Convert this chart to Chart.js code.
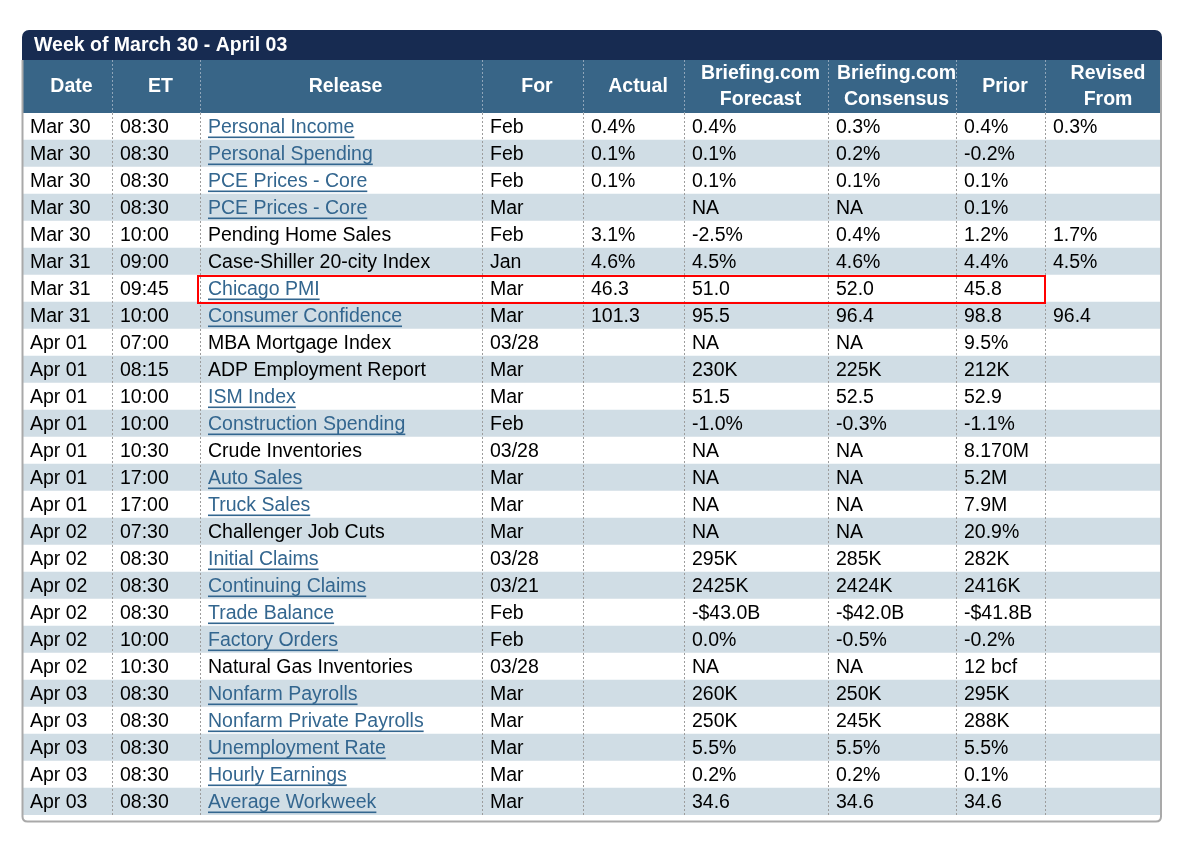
<!DOCTYPE html>
<html>
<head>
<meta charset="utf-8">
<title>Week of March 30 - April 03</title>
<script src="https://cdn.jsdelivr.net/npm/chart.js@4"></script>
<style>
  html, body { margin: 0; padding: 0; background: #ffffff; }
  #wrap { width: 1183px; height: 843px; position: relative; }
</style>
</head>
<body>
<div id="wrap"><canvas id="calendar"></canvas></div>
<script>
// Table data
const title = "Week of March 30 - April 03";
const headerLabels = ["Date", "ET", "Release", "For", "Actual", "Briefing.com\nForecast", "Briefing.com\nConsensus", "Prior", "Revised\nFrom"];

const dates = ["Mar 30", "Mar 30", "Mar 30", "Mar 30", "Mar 30", "Mar 31", "Mar 31", "Mar 31", "Apr 01", "Apr 01", "Apr 01", "Apr 01", "Apr 01",
  "Apr 01", "Apr 01", "Apr 02", "Apr 02", "Apr 02", "Apr 02", "Apr 02", "Apr 02", "Apr 03", "Apr 03", "Apr 03", "Apr 03", "Apr 03"];
const times = ["08:30", "08:30", "08:30", "08:30", "10:00", "09:00", "09:45", "10:00", "07:00", "08:15", "10:00", "10:00", "10:30",
  "17:00", "17:00", "07:30", "08:30", "08:30", "08:30", "10:00", "10:30", "08:30", "08:30", "08:30", "08:30", "08:30"];
const releases = ["Personal Income", "Personal Spending", "PCE Prices - Core", "PCE Prices - Core", "Pending Home Sales",
  "Case-Shiller 20-city Index", "Chicago PMI", "Consumer Confidence", "MBA Mortgage Index", "ADP Employment Report",
  "ISM Index", "Construction Spending", "Crude Inventories", "Auto Sales", "Truck Sales", "Challenger Job Cuts",
  "Initial Claims", "Continuing Claims", "Trade Balance", "Factory Orders", "Natural Gas Inventories",
  "Nonfarm Payrolls", "Nonfarm Private Payrolls", "Unemployment Rate", "Hourly Earnings", "Average Workweek"];
const isLink = [true, true, true, true, false, false, true, true, false, false, true, true, false,
  true, true, false, true, true, true, true, false, true, true, true, true, true];
const periods = ["Feb", "Feb", "Feb", "Mar", "Feb", "Jan", "Mar", "Mar", "03/28", "Mar", "Mar", "Feb", "03/28",
  "Mar", "Mar", "Mar", "03/28", "03/21", "Feb", "Feb", "03/28", "Mar", "Mar", "Mar", "Mar", "Mar"];
const actual = ["0.4%", "0.1%", "0.1%", "", "3.1%", "4.6%", "46.3", "101.3", "", "", "", "", "",
  "", "", "", "", "", "", "", "", "", "", "", "", ""];
const forecast = ["0.4%", "0.1%", "0.1%", "NA", "-2.5%", "4.5%", "51.0", "95.5", "NA", "230K", "51.5", "-1.0%", "NA",
  "NA", "NA", "NA", "295K", "2425K", "-$43.0B", "0.0%", "NA", "260K", "250K", "5.5%", "0.2%", "34.6"];
const consensus = ["0.3%", "0.2%", "0.1%", "NA", "0.4%", "4.6%", "52.0", "96.4", "NA", "225K", "52.5", "-0.3%", "NA",
  "NA", "NA", "NA", "285K", "2424K", "-$42.0B", "-0.5%", "NA", "250K", "245K", "5.5%", "0.2%", "34.6"];
const prior = ["0.4%", "-0.2%", "0.1%", "0.1%", "1.2%", "4.4%", "45.8", "98.8", "9.5%", "212K", "52.9", "-1.1%", "8.170M",
  "5.2M", "7.9M", "20.9%", "282K", "2416K", "-$41.8B", "-0.2%", "12 bcf", "295K", "288K", "5.5%", "0.1%", "34.6"];
const revised = ["0.3%", "", "", "", "1.7%", "4.5%", "", "96.4", "", "", "", "", "",
  "", "", "", "", "", "", "", "", "", "", "", "", ""];
const highlightRow = 6;

const columns = [dates, times, releases, periods, actual, forecast, consensus, prior, revised];
const rowIndex = dates.map((d, i) => i);

// Layout (x scale units = table pixels from left edge)
const tableWidth = 1140;
const colEdges = [0, 90, 178, 460, 561, 662, 806, 934, 1023, 1140];

const FONT = '"Liberation Sans", Arial, sans-serif';
const stripe = "#d0dde5";
const linkColor = "#33668f";

const tablePlugin = {
  id: "tableCells",
  beforeDatasetsDraw(chart) {
    const { ctx, chartArea, scales } = chart;
    const xs = scales.x;
    const left = chartArea.left, right = chartArea.right;
    const headTop = chartArea.top - 53;
    const titleTop = headTop - 30;
    ctx.save();
    // title bar
    ctx.fillStyle = "#172b51";
    ctx.beginPath();
    ctx.roundRect(left, titleTop, right - left, 32, [7, 7, 0, 0]);
    ctx.fill();
    ctx.fillStyle = "#ffffff";
    ctx.font = "bold 19.5px " + FONT;
    ctx.textBaseline = "middle";
    ctx.textAlign = "left";
    ctx.fillText(title, left + 12, titleTop + 16);
    // header
    ctx.fillStyle = "#386587";
    ctx.fillRect(left, headTop, right - left, 53);
    ctx.fillStyle = "#ffffff";
    ctx.textAlign = "center";
    headerLabels.forEach((lab, c) => {
      const cx = (xs.getPixelForValue(colEdges[c]) + xs.getPixelForValue(colEdges[c + 1])) / 2 + 4.5;
      const lines = lab.split("\n");
      if (lines.length === 1) {
        ctx.fillText(lines[0], cx, headTop + 26.5);
      } else {
        ctx.fillText(lines[0], cx, headTop + 13.5);
        ctx.fillText(lines[1], cx, headTop + 40);
      }
    });
    ctx.restore();
  },
  afterDatasetsDraw(chart) {
    const { ctx, chartArea, scales } = chart;
    const xs = scales.x, ys = scales.y;
    const headTop = chartArea.top - 53;
    const half = (ys.getPixelForValue(1) - ys.getPixelForValue(0)) / 2;
    ctx.save();
    // dotted column separators
    ctx.lineWidth = 1;
    ctx.setLineDash([2, 2]);
    for (let c = 1; c < colEdges.length - 1; c++) {
      const x = Math.round(xs.getPixelForValue(colEdges[c])) + 0.5;
      ctx.strokeStyle = "#8fa5b9";
      ctx.beginPath();
      ctx.moveTo(x, headTop);
      ctx.lineTo(x, chartArea.top);
      ctx.stroke();
      ctx.strokeStyle = "#9c9c9c";
      ctx.beginPath();
      ctx.moveTo(x, chartArea.top);
      ctx.lineTo(x, chartArea.bottom);
      ctx.stroke();
    }
    ctx.setLineDash([]);
    // cell text
    ctx.font = "19.5px " + FONT;
    ctx.textBaseline = "middle";
    ctx.textAlign = "left";
    rowIndex.forEach((r) => {
      const y = ys.getPixelForValue(r) + 1;
      columns.forEach((col, c) => {
        const txt = col[r];
        if (!txt) return;
        const x = xs.getPixelForValue(colEdges[c]) + 8;
        const link = c === 2 && isLink[r];
        ctx.fillStyle = link ? linkColor : "#000000";
        ctx.fillText(txt, x, y);
        if (link) {
          const w = ctx.measureText(txt).width;
          ctx.fillRect(x, y + 9, w, 1.6);
        }
      });
    });
    // highlighted row box
    const hx0 = xs.getPixelForValue(colEdges[2]) - 2;
    const hx1 = xs.getPixelForValue(colEdges[8]);
    const hy = ys.getPixelForValue(highlightRow);
    ctx.strokeStyle = "#ff0000";
    ctx.lineWidth = 2;
    ctx.strokeRect(hx0, hy - half + 1, hx1 - hx0, half * 2);
    // outer border
    const L = chartArea.left + 0.5, R = chartArea.right - 1, B = chartArea.bottom + 6.5;
    ctx.strokeStyle = "#a9a9a9";
    ctx.lineWidth = 2;
    ctx.beginPath();
    ctx.moveTo(L, headTop);
    ctx.lineTo(L, B - 5);
    ctx.quadraticCurveTo(L, B, L + 5, B);
    ctx.lineTo(R - 5, B);
    ctx.quadraticCurveTo(R, B, R, B - 5);
    ctx.lineTo(R, headTop);
    ctx.stroke();
    ctx.restore();
  }
};

new Chart(document.getElementById("calendar"), {
  type: "bar",
  data: {
    labels: rowIndex,
    datasets: [
      {
        data: rowIndex.map(() => [0, tableWidth]),
        backgroundColor: rowIndex.map((r) => (r % 2 === 1 ? stripe : "#ffffff")),
        borderWidth: 0,
        barPercentage: 1,
        categoryPercentage: 1,
      },
    ],
  },
  options: {
    indexAxis: "y",
    responsive: true,
    maintainAspectRatio: false,
    animation: false,
    layout: {
      padding: { top: 113, bottom: 28, left: 22, right: 21 },
    },
    plugins: {
      legend: { display: false },
      tooltip: { enabled: false },
    },
    scales: {
      x: { type: "linear", min: 0, max: tableWidth, display: false },
      y: { type: "category", display: false, offset: true },
    },
  },
  plugins: [tablePlugin],
});
</script>
</body>
</html>
